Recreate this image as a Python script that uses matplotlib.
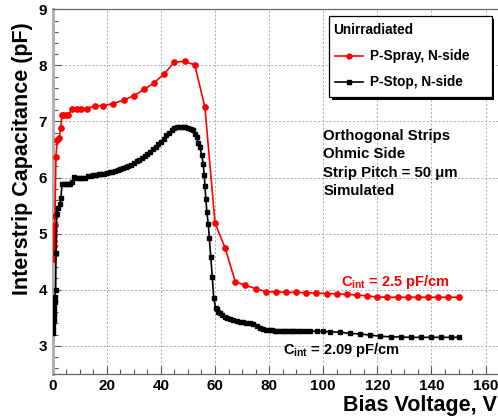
import matplotlib
matplotlib.use("Agg")
import matplotlib.pyplot as plt
from matplotlib.lines import Line2D
from matplotlib.patches import Rectangle
from matplotlib.ticker import MultipleLocator

plt.rcParams['font.family'] = ['Liberation Sans', 'DejaVu Sans']
plt.rcParams['font.weight'] = 'bold'
plt.rcParams['mathtext.fontset'] = 'custom'
plt.rcParams['mathtext.rm'] = 'Liberation Sans:bold'
plt.rcParams['mathtext.bf'] = 'Liberation Sans:bold'
plt.rcParams['mathtext.it'] = 'Liberation Sans:bold'

# ---------------- data ----------------
spray_v = [0, 0.1, 0.2, 0.3, 0.4, 0.5, 0.6, 0.7, 0.85, 1.2, 1.7, 2.4, 3.0, 3.4, 3.8, 4.8, 5.8,
           7.2, 8.8, 10.6, 12.8, 15.6, 18.7, 22.4, 26.2, 30.0, 33.75, 37.5, 41.25, 45.0, 48.75,
           52.5, 56.25, 60.0, 63.75, 67.5, 71.25, 75.0, 78.75, 82.5, 86.25, 90.0, 93.75, 97.5,
           101.25, 105.0, 108.75, 112.5, 116.25, 120.0, 123.75, 127.5, 131.25, 135.0, 138.75,
           142.5, 146.25, 150.0]
spray_c = [4.55, 4.62, 4.70, 4.78, 4.86, 4.95, 5.05, 5.15, 5.31, 6.37, 6.67, 6.70, 6.89, 7.11, 7.11, 7.11, 7.11,
           7.23, 7.23, 7.23, 7.23, 7.28, 7.28, 7.32, 7.38, 7.46, 7.57, 7.69, 7.85, 8.06, 8.07,
           8.01, 7.26, 5.19, 4.74, 4.14, 4.08, 4.02, 3.965, 3.96, 3.955, 3.95, 3.945, 3.94,
           3.93, 3.925, 3.915, 3.905, 3.89, 3.87, 3.865, 3.865, 3.865, 3.865, 3.865,
           3.865, 3.865, 3.865]

stop_v = [0, 0.1, 0.2, 0.3, 0.4, 0.5, 0.6, 0.7, 0.85, 1.1, 1.22, 1.47, 2.1, 2.7, 3.07, 3.4, 4.3, 5.0,
          5.8, 6.5, 7.1, 8.0, 9, 10, 11, 12, 13, 14, 15, 16, 17, 18, 19, 20, 21, 22, 23, 24, 25,
          26, 27, 28, 29, 30, 31, 32, 33, 34, 35, 36, 37, 38, 39, 40, 41, 42, 43, 44, 45, 46,
          47, 48, 49, 50, 51, 52, 52.6, 53.2, 53.8, 54.4, 55.1, 55.6, 56.0, 56.3, 56.6, 57.0,
          57.5, 57.9, 58.4, 59.0, 59.5, 60.2, 60.6, 61.2, 61.8, 62.7, 63.6, 64.5, 65.5, 66.7,
          68.0, 69.2, 70.4, 71.6, 72.9, 74.2, 75.4, 76.6, 77.8, 79.0, 80.3, 81.0, 82.0, 83.0,
          84.0, 85.0, 86.0, 87.0, 88.0, 89.0, 90.0, 91.0, 92.0, 93.7, 95.0, 97.6, 100.0, 102.5,
          106.2, 109.9, 113.6, 117.4, 121.1, 124.9, 128.6, 132.4, 136.1, 139.9, 143.6, 147.4,
          150.0]
stop_c = [3.22, 3.30, 3.38, 3.46, 3.54, 3.62, 3.70, 3.78, 3.87, 3.99, 4.65, 5.35, 5.45, 5.52, 5.63, 5.88, 5.89, 5.88,
          5.88, 5.89, 5.92, 6.01, 6.00, 6.00, 6.00, 6.00, 6.02, 6.03, 6.04, 6.05, 6.06, 6.07, 6.07, 6.08, 6.09, 6.10, 6.12, 6.13, 6.15,
          6.17, 6.19, 6.21, 6.23, 6.26, 6.29, 6.32, 6.35, 6.39, 6.42, 6.46, 6.50, 6.54, 6.59, 6.64, 6.69, 6.75, 6.80, 6.85, 6.89, 6.90,
          6.91, 6.91, 6.90, 6.89, 6.87, 6.84, 6.78, 6.72, 6.62, 6.54, 6.40, 6.25, 6.05, 5.85, 5.62, 5.38,
          5.17, 4.92, 4.59, 4.22, 3.86, 3.68, 3.65, 3.61, 3.58, 3.55, 3.52, 3.50, 3.48, 3.46,
          3.44, 3.43, 3.42, 3.41, 3.40, 3.38, 3.36, 3.32, 3.29, 3.28, 3.28, 3.275, 3.27, 3.27,
          3.27, 3.27, 3.27, 3.27, 3.27, 3.27, 3.27, 3.268, 3.266, 3.264, 3.26, 3.26, 3.255, 3.25,
          3.24, 3.22, 3.21, 3.19, 3.17, 3.16, 3.155, 3.15, 3.15, 3.15, 3.15, 3.15,
          3.15]

x_ticks = [0, 20, 40, 60, 80, 100, 120, 140, 160]
y_ticks = [3, 4, 5, 6, 7, 8, 9]

# ---------------- figure ----------------
W, H = 498, 420
fig = plt.figure(figsize=(W / 100, H / 100), dpi=100)
ax = fig.add_axes([52.7 / W, 1 - 373.8 / H, 1 - 52.7 / W, (373.8 - 9.3) / H])
ax.set_xlim(0, 164.6)
ax.set_ylim(2.5, 9)

ax.plot(spray_v, spray_c, color='#ff0000', lw=1.2, marker='o', ms=3.8, mec='#ff0000', mfc='#ff0000', zorder=4)
ax.plot(stop_v, stop_c, color='black', lw=1.2, marker='s', ms=2.8, mec='black', mfc='black', zorder=5)

ax.xaxis.set_minor_locator(MultipleLocator(5))
ax.yaxis.set_minor_locator(MultipleLocator(0.2))
ax.set_xticks(x_ticks)
ax.set_yticks(y_ticks)
ax.set_xticklabels([str(t) for t in x_ticks])
ax.set_yticklabels([str(t) for t in y_ticks])
ax.tick_params(axis='both', which='major', direction='in', length=6, width=0.8, color='#555555',
               labelsize=11, pad=4)
ax.tick_params(axis='both', which='minor', direction='in', length=3.5, width=0.8, color='#555555')
ax.tick_params(axis='x', pad=4)
ax.tick_params(top=False, right=False, which='both')
for lab in ax.get_xticklabels() + ax.get_yticklabels():
    lab.set_fontweight('bold')

ax.grid(True, which='major', color='#aaaaaa', linestyle=(0, (2, 2)), linewidth=0.7)
ax.spines['left'].set_color('#b0b0b0')
ax.spines['left'].set_linewidth(2.2)
ax.spines['bottom'].set_color('#666666')
ax.spines['bottom'].set_linewidth(0.9)
ax.spines['top'].set_color('#666666')
ax.spines['top'].set_linewidth(0.9)
ax.spines['right'].set_visible(False)

fig.text(23 / W, 1 - 158.5 / H, 'Interstrip Capacitance (pF)', rotation=90, ha='center', va='center',
         fontsize=15.5, fontweight='bold')
fig.text(497 / W, 1 - 410.7 / H, 'Bias Voltage, V', ha='right', va='baseline', fontsize=15.5, fontweight='bold')

# legend box (manual, figure pixel coordinates)
tr = fig.transFigure
bx0, by0, bx1, by1 = 329.3, 16, 491.7, 97.3
fig.patches.append(Rectangle(((bx0 + 2.5) / W, 1 - (by1 + 2.5) / H), (bx1 - bx0) / W, (by1 - by0) / H,
                             transform=tr, facecolor='black', edgecolor='none', zorder=9))
fig.patches.append(Rectangle((bx0 / W, 1 - by1 / H), (bx1 - bx0) / W, (by1 - by0) / H,
                             transform=tr, facecolor='white', edgecolor='black', lw=0.9, zorder=10))
fig.text(333.5 / W, 1 - 30 / H, 'Unirradiated', ha='left', va='center', fontsize=9.8, fontweight='bold', zorder=11)
for yy, col, mk, ms, lab in [(56, '#ff0000', 'o', 3.6, 'P-Spray, N-side'), (82, 'black', 's', 2.8, 'P-Stop, N-side')]:
    fig.lines.append(Line2D([335 / W, 363.3 / W], [1 - yy / H, 1 - yy / H], transform=tr, color=col, lw=1.2, zorder=11))
    fig.lines.append(Line2D([349.3 / W], [1 - yy / H], transform=tr, color=col, marker=mk, ms=ms, zorder=12))
    fig.text(370 / W, 1 - yy / H, lab, ha='left', va='center', fontsize=9.8, fontweight='bold', zorder=11)

for i, s in enumerate(['Orthogonal Strips', 'Ohmic Side', 'Strip Pitch = 50 \u03bcm', 'Simulated']):
    fig.text(323.3 / W, 1 - (136 + i * 18.5) / H, s, ha='left', va='center', fontsize=10.8, fontweight='bold')

fig.text(340.7 / W, 1 - 282 / H, r'$\mathbf{C_{int}}$ = 2.5 pF/cm', ha='left', va='center',
         fontsize=10.5, fontweight='bold', color='#ff0000')
fig.text(283.3 / W, 1 - 350 / H, r'$\mathbf{C_{int}}$ = 2.09 pF/cm', ha='left', va='center',
         fontsize=10.5, fontweight='bold', color='black')

fig.savefig('out.png', dpi=100)
